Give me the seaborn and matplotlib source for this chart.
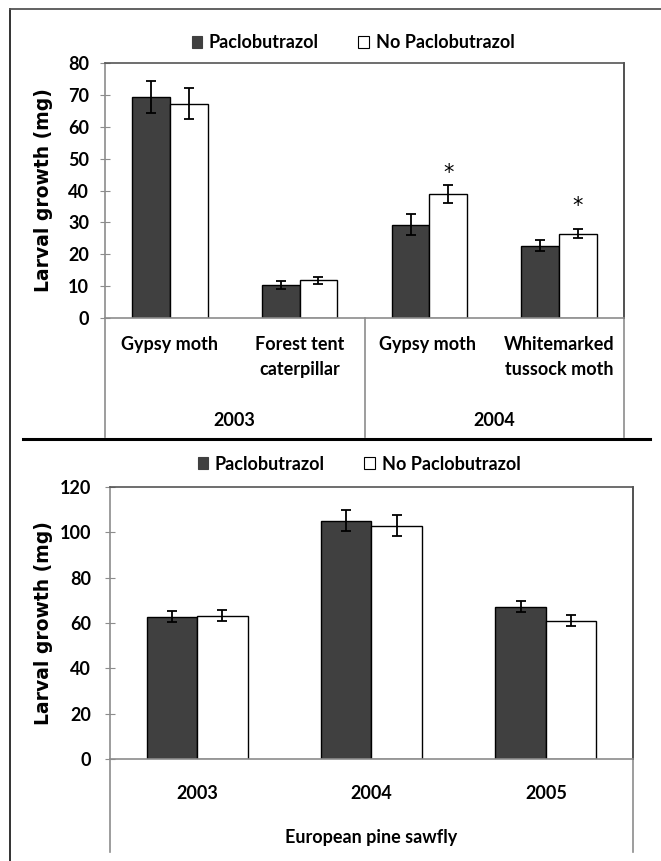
import numpy as np
import pandas as pd
import matplotlib
matplotlib.use("Agg")
import matplotlib.pyplot as plt
import matplotlib.transforms as mtransforms
from matplotlib.font_manager import FontProperties
from matplotlib.lines import Line2D
from matplotlib.patches import Patch
import seaborn as sns

TREATMENTS = ("Paclobutrazol", "No Paclobutrazol")
BAR_COLOURS = ("#404040", "white")

# top panel: 2003/2004 defoliators
TOP_CATS = ["Gypsy moth", "Forest tent\ncaterpillar", "Gypsy moth ", "Whitemarked\ntussock moth"]
TOP_YEARS = ["2003", "2004"]
TOP_PACLO = [69.3, 10.3, 29.2, 22.7]
TOP_PACLO_ERR = [5.1, 1.2, 3.3, 1.7]
TOP_NOPACLO = [67.2, 11.8, 38.9, 26.5]
TOP_NOPACLO_ERR = [4.9, 1.2, 2.8, 1.3]
TOP_STARS = [None, None, 45.5, 35.0]

# bottom panel: European pine sawfly
BOT_CATS = ["2003", "2004", "2005"]
BOT_PACLO = [62.8, 105.1, 67.2]
BOT_PACLO_ERR = [2.3, 4.6, 2.3]
BOT_NOPACLO = [63.3, 102.9, 61.1]
BOT_NOPACLO_ERR = [2.5, 4.6, 2.3]
BOT_GROUP = "European pine sawfly"

W, H = 661, 861
TICK_FONT = dict(family="Lato", weight="bold", size=13)
GREY = "#8c8c8c"


def fx(px):
    return px / W


def fy(py):
    return 1 - py / H


def bar_panel(ax, cats, paclo, paclo_err, nopaclo, nopaclo_err, ymax, step, legend_xy):
    df = pd.DataFrame(
        {
            "cat": cats * 2,
            "treat": [TREATMENTS[0]] * len(cats) + [TREATMENTS[1]] * len(cats),
            "val": paclo + nopaclo,
        }
    )
    sns.barplot(
        data=df, x="cat", y="val", hue="treat", order=cats, hue_order=TREATMENTS,
        palette=list(BAR_COLOURS), edgecolor="black", linewidth=1.0,
        width=0.58, errorbar=None, legend=False, ax=ax, saturation=1,
    )
    for cont, errs in zip(ax.containers, (paclo_err, nopaclo_err)):
        xs = [p.get_x() + p.get_width() / 2 for p in cont.patches]
        hs = [p.get_height() for p in cont.patches]
        ax.errorbar(xs, hs, yerr=errs, fmt="none", ecolor="black",
                    elinewidth=1.3, capsize=3.5, capthick=1.3, zorder=5)

    ax.set_xlim(-0.5, len(cats) - 0.5)
    ax.set_ylim(0, ymax)
    ax.set_yticks(np.arange(0, ymax + 1, step))
    ax.set_xlabel("")
    ax.set_ylabel("Larval growth (mg)", family="DejaVu Sans", weight="bold",
                  fontsize=13.5)
    for s in ax.spines.values():
        s.set_color(GREY)
        s.set_linewidth(1.2)
    ax.spines["top"].set_color("#555555")
    ax.spines["right"].set_color("#333333")
    ax.tick_params(axis="x", length=0)
    ax.tick_params(axis="y", direction="inout", length=7, color=GREY, pad=8)
    for lab in ax.get_yticklabels() + ax.get_xticklabels():
        lab.set_fontproperties(FontProperties(**TICK_FONT))

    ax.legend(
        handles=[Patch(facecolor=c, edgecolor="black" if c == "white" else c, linewidth=0.8)
                 for c in BAR_COLOURS],
        labels=list(TREATMENTS), loc="center", bbox_to_anchor=legend_xy,
        ncol=2, frameon=False, handlelength=0.6, handleheight=0.6, handletextpad=0.35,
        columnspacing=2.2, prop=FontProperties(**TICK_FONT),
    )


fig = plt.figure(figsize=(W / 100, H / 100), dpi=100)

# --- top panel ---
ax1 = fig.add_axes([fx(105), fy(318), fx(624) - fx(105), fy(63) - fy(318)])
bar_panel(ax1, TOP_CATS, TOP_PACLO, TOP_PACLO_ERR, TOP_NOPACLO, TOP_NOPACLO_ERR, 80, 10,
          ((353 - 105) / 519, (318 - 43) / 255))
ax1.yaxis.set_label_coords((53 - 105) / 519, 0.5)
ax1.tick_params(axis="x", pad=13)
for lab in ax1.get_xticklabels():
    lab.set_linespacing(1.55)
    lab.set_verticalalignment("top")

trans1 = mtransforms.blended_transform_factory(ax1.transData, ax1.transAxes)
low1 = -(437 - 318) / 255
for xv in (-0.5, 1.5, 3.5):
    ax1.plot([xv, xv], [0, low1], transform=trans1, color=GREY, lw=1.2, clip_on=False)
for i, yr in enumerate(TOP_YEARS):
    ax1.text(0.5 + 2 * i, -(420 - 318) / 255, yr, transform=trans1,
             ha="center", va="center", **TICK_FONT)

nop_bars = ax1.containers[1].patches
for bar, star in zip(nop_bars, TOP_STARS):
    if star is not None:
        ax1.text(bar.get_x() + bar.get_width() / 2, star, "*", ha="center",
                 va="center", family="DejaVu Sans", fontsize=15)

# --- bottom panel ---
ax2 = fig.add_axes([fx(110), fy(759), fx(633) - fx(110), fy(487) - fy(759)])
bar_panel(ax2, BOT_CATS, BOT_PACLO, BOT_PACLO_ERR, BOT_NOPACLO, BOT_NOPACLO_ERR, 120, 20,
          ((359 - 110) / 523, (759 - 464) / 272))
ax2.yaxis.set_label_coords((53 - 110) / 523, 0.5)
ax2.tick_params(axis="x", pad=19)
ax2.tick_params(axis="y", pad=10)

trans2 = mtransforms.blended_transform_factory(ax2.transData, ax2.transAxes)
low2 = -(852 - 759) / 272
for xv in (-0.5, len(BOT_CATS) - 0.5):
    ax2.plot([xv, xv], [0, low2], transform=trans2, color=GREY, lw=1.2, clip_on=False)
ax2.text(0.5, -(837 - 759) / 272, BOT_GROUP, transform=ax2.transAxes,
         ha="center", va="center", **TICK_FONT)

# --- outer frame and divider ---
fig.add_artist(Line2D([fx(10), fx(10)], [fy(9), 0], color="#222222", lw=1.3))
fig.add_artist(Line2D([fx(10), 1], [fy(9), fy(9)], color="#555555", lw=1.3))
fig.add_artist(Line2D([fx(23), fx(650)], [fy(439), fy(439)], color="black", lw=2.2))

fig.savefig("out.png", dpi=100)
